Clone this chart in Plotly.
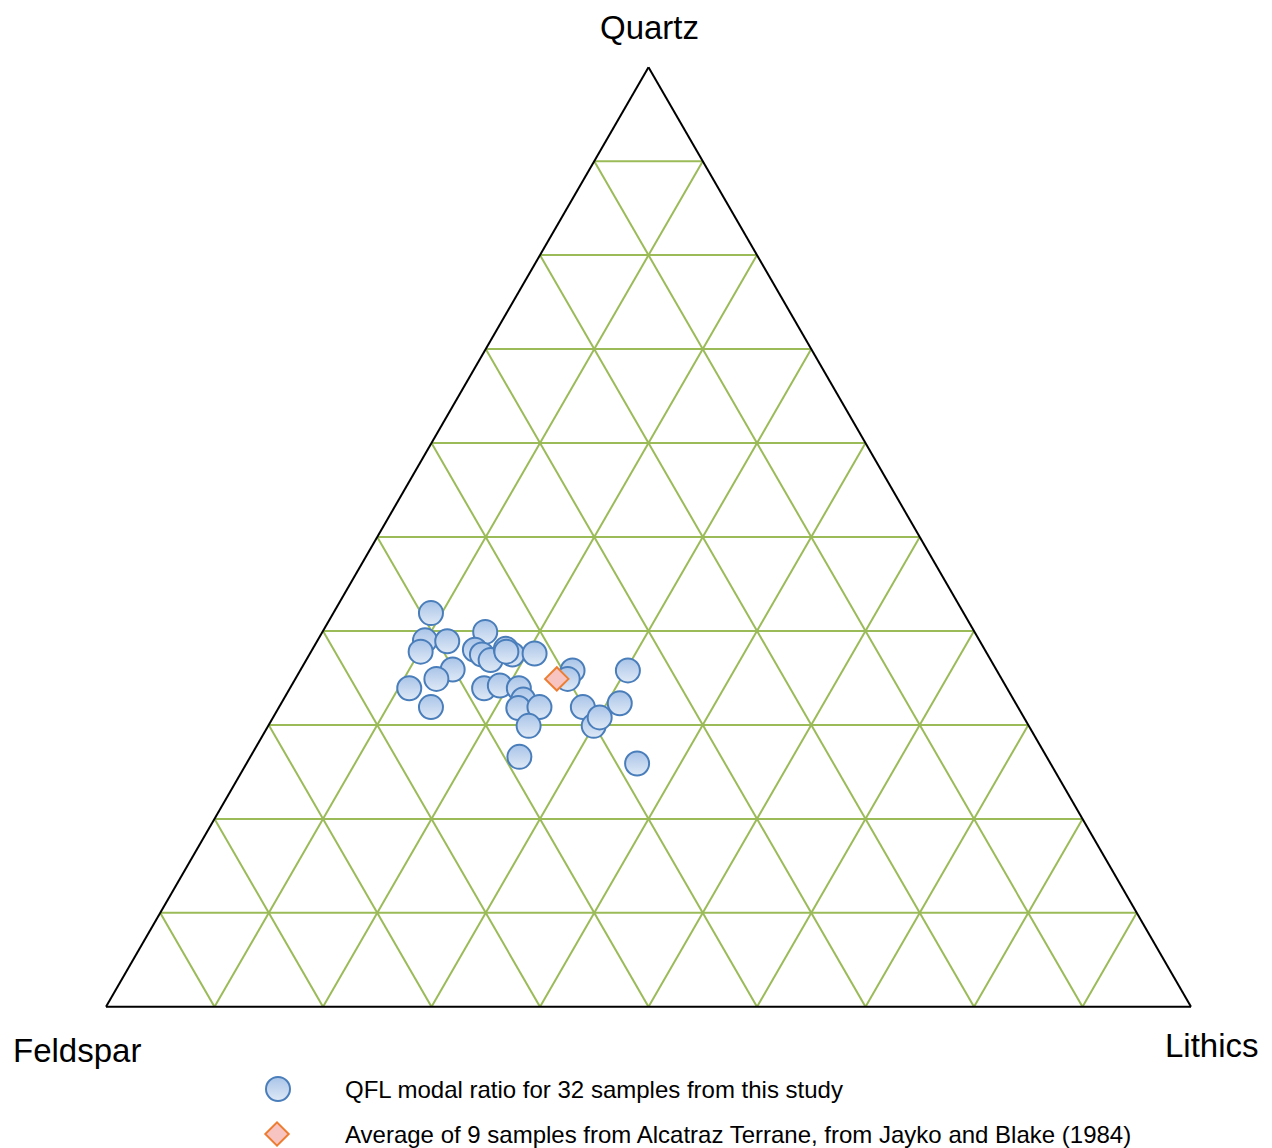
import plotly.graph_objects as go

# QFL modal ratios (percent) for 32 samples from this study
quartz = [41.9, 39.0, 37.8, 38.9, 35.9, 34.9, 33.9, 31.9, 39.9, 38.0,
          37.5, 36.9, 38.1, 37.5, 37.6, 33.9, 34.2, 33.9, 32.7, 31.8,
          31.9, 29.9, 26.6, 35.8, 34.9, 35.8, 31.9, 32.3, 29.9, 30.8,
          25.9, 37.8]
feldspar = [49.1, 51.1, 52.1, 49.1, 50.1, 52.1, 55.1, 54.1, 45.1, 47.0,
            46.6, 46.1, 44.1, 43.8, 41.7, 48.2, 46.6, 45.0, 45.2, 46.1,
            44.1, 46.1, 48.6, 39.1, 40.0, 34.0, 40.1, 36.5, 40.1, 39.1,
            38.1, 44.2]
lithics = [9.0, 9.9, 10.1, 12.0, 14.0, 13.0, 11.0, 14.0, 15.0, 15.0,
           15.9, 17.0, 17.8, 18.7, 20.7, 17.9, 19.2, 21.1, 22.1, 22.1,
           24.0, 24.0, 24.8, 25.1, 25.1, 30.2, 28.0, 31.2, 30.0, 30.1,
           36.0, 18.0]

# Average of 9 samples, Alcatraz Terrane (Jayko and Blake, 1984)
avg_quartz = [34.9]
avg_feldspar = [41.0]
avg_lithics = [24.1]

corner_labels = ["Quartz", "Feldspar", "Lithics"]
legend_names = ["QFL modal ratio for 32 samples from this study",
                "Average of 9 samples from Alcatraz Terrane, from Jayko and Blake (1984)"]

FONT = "Liberation Sans, Arial, sans-serif"
GRID = "#9bbb59"
PAGE_W, PAGE_H = 1272, 1148
OFF = 8                      # default page body margin
W, H = PAGE_W - OFF, PAGE_H - OFF

circle_marker = dict(symbol="circle", size=24, color="#a9c4e8",
                     gradient=dict(type="vertical", color="#dfe9f6"),
                     line=dict(color="#4a7ebb", width=2))
diamond_marker = dict(symbol="diamond", size=18, color="#f7c4c2",
                      line=dict(color="#ed7d31", width=2))

fig = go.Figure()
fig.add_trace(go.Scatterternary(
    a=quartz, b=feldspar, c=lithics, mode="markers",
    name=legend_names[0], marker=circle_marker, showlegend=False,
))
fig.add_trace(go.Scatterternary(
    a=avg_quartz, b=avg_feldspar, c=avg_lithics, mode="markers",
    name=legend_names[1], marker=diamond_marker, showlegend=False,
))

# Legend block (drawn below the triangle as in the original figure)
legend_key_x = [278, 277]
legend_key_y = [1089, 1134]
legend_text_x = 343
fig.add_trace(go.Scatter(x=legend_key_x[:1], y=legend_key_y[:1], mode="markers",
                         marker=circle_marker, showlegend=False, hoverinfo="skip",
                         cliponaxis=False))
fig.add_trace(go.Scatter(x=legend_key_x[1:], y=legend_key_y[1:], mode="markers",
                         marker=diamond_marker, showlegend=False, hoverinfo="skip",
                         cliponaxis=False))

axis_common = dict(
    min=0, dtick=10, tick0=0, showticklabels=False, ticks="",
    showgrid=True, gridcolor=GRID, gridwidth=1.5,
    showline=True, linecolor="black", linewidth=2, title=dict(text=""),
)

annotations = [
    dict(text=corner_labels[0], x=649, y=27),
    dict(text=corner_labels[1], x=77, y=1050),
    dict(text=corner_labels[2], x=1212, y=1045),
]
annotations = [dict(a, xref="x", yref="y", xanchor="center", yanchor="middle",
                    showarrow=False, font=dict(size=33, family=FONT, color="black"))
               for a in annotations]
for name, ky in zip(legend_names, legend_key_y):
    annotations.append(dict(text=name, x=legend_text_x, y=ky, xref="x", yref="y",
                            xanchor="left", yanchor="middle", showarrow=False,
                            font=dict(size=24, family=FONT, color="black")))

# triangle box in page pixels: left 106, right 1191, top 67, bottom 1007
tri_l, tri_r, tri_t, tri_b = 106, 1191, 67, 1007

fig.update_layout(
    width=W, height=H,
    margin=dict(l=0, r=0, t=0, b=0, autoexpand=False),
    paper_bgcolor="white", plot_bgcolor="rgba(0,0,0,0)",
    font=dict(family=FONT, color="black"),
    showlegend=False,
    xaxis=dict(range=[OFF, PAGE_W], visible=False, fixedrange=True),
    yaxis=dict(range=[PAGE_H, OFF], visible=False, fixedrange=True),
    ternary=dict(
        sum=100, bgcolor="white",
        domain=dict(x=[(tri_l - OFF) / W, (tri_r - OFF) / W],
                    y=[(PAGE_H - tri_b) / H, (PAGE_H - tri_t) / H]),
        aaxis=axis_common, baxis=axis_common, caxis=axis_common,
    ),
    annotations=annotations,
)

fig.write_html("out.html")
